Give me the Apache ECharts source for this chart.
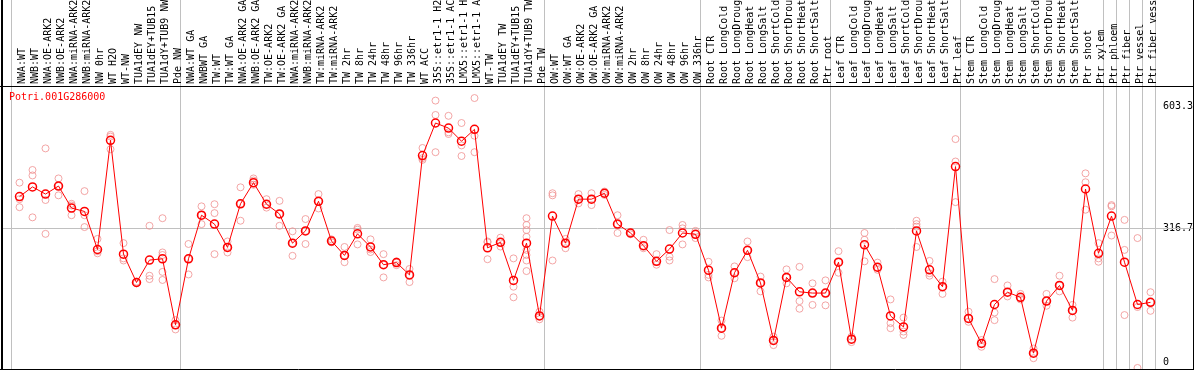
<!DOCTYPE html>
<html><head><meta charset="utf-8">
<script src="https://cdn.jsdelivr.net/npm/echarts@6.0.0/dist/echarts.min.js"></script>
<style>html,body{margin:0;padding:0;background:#fff}#c{width:1194px;height:370px}</style>
</head><body><div id="c"></div>
<script>
const geneName = 'Potri.001G286000';

const categories = [
  'NWA:WT','NWB:WT','NWA:OE-ARK2','NWB:OE-ARK2','NWA:miRNA-ARK2','NWB:miRNA-ARK2','NW 0hr','WT H2O','WT-NW',
  'TUA1dEY NW','TUA1dEY+TUB15 NW','TUA1dY+TUB9 NW','Pde NW',
  'NWA:WT GA','NWBWT GA','TW:WT','TW:WT GA','NWA:OE-ARK2 GA','NWB:OE-ARK2 GA','TW:OE-ARK2','TW:OE-ARK2 GA',
  'NWA:miRNA-ARK2 GA','NWB:miRNA-ARK2 GA','TW:miRNA-ARK2','TW:miRNA-ARK2 GA',
  'TW 2hr','TW 8hr','TW 24hr','TW 48hr','TW 96hr','TW 336hr','WT ACC',
  '35S::etr1-1 H2O','35S::etr1-1 ACC','LMX5::etr1-1 H2O','LMX5::etr1-1 ACC',
  'WT-TW','TUA1dEY TW','TUA1dEY+TUB15 TW','TUA1dY+TUB9 TW','Pde TW',
  'OW:WT','OW:WT GA','OW:OE-ARK2','OW:OE-ARK2 GA','OW:miRNA-ARK2','OW:miRNA-ARK2 GA',
  'OW 2hr','OW 8hr','OW 24hr','OW 48hr','OW 96hr','OW 336hr',
  'Root CTR','Root LongCold','Root LongDrought','Root LongHeat','Root LongSalt',
  'Root ShortCold','Root ShortDrought','Root ShortHeat','Root ShortSalt','Ptr root',
  'Leaf CTR','Leaf LongCold','Leaf LongDrought','Leaf LongHeat','Leaf LongSalt',
  'Leaf ShortCold','Leaf ShortDrought','Leaf ShortHeat','Leaf ShortSalt','Ptr leaf',
  'Stem CTR','Stem LongCold','Stem LongDrought','Stem LongHeat','Stem LongSalt',
  'Stem ShortCold','Stem ShortDrought','Stem ShortHeat','Stem ShortSalt',
  'Ptr shoot','Ptr xylem','Ptr phloem','Ptr fiber','Ptr vessel','Ptr fiber vessel'
];

const meanValues = [
  391,414,397,416,364,356,266,524,255,188,241,244,88,
  244,347,326,271,374,424,373,350,281,310,380,286,252,303,272,230,235,206,488,
  565,553,522,550,270,283,193,281,109,
  345,281,385,385,399,326,305,275,238,267,305,302,
  217,80,211,264,187,51,200,166,163,163,
  236,54,277,224,109,83,310,218,178,462,
  103,44,136,165,153,21,144,181,122,409,257,345,236,136,141
];

const replicateValues = [
  [424,385,366],[454,441,342],[505,383,303],[434,416,394],[374,370,347],[404,347,319],
  [291,262,257],[537,533,503],[281,245,240],[190,188,186],[322,204,196],[340,259,253,213,194],[99,87,77],
  [279,244,207],[368,347,326],[373,352,255],[285,271,259],[413,374,334],[434,429,419],[385,373,365],
  [381,350,322],[309,281,251],[338,310,279],[397,380,363],[290,286,283],[272,252,236],[317,313,278],
  [290,266,260],[255,230,200],[238,235,229],[220,206,189],[506,482,478],
  [618,584,496],[582,543,539],[565,512,487],[624,535,496],
  [285,283,243],[294,283,273],[245,178,153],[340,324,312,296,265,253,240,215],[119,109,101],
  [399,394,240],[291,281,269],[397,385,375],[399,385,371],[403,399,395],[347,326,305],
  [307,305,302],[289,275,269],[255,238,230],[312,249,240],[324,316,278],[310,302,293],
  [237,206,200],[98,80,62],[226,211,198],[285,264,248],[202,187,167],[60,51,40],
  [219,200,186],[225,144,126],[186,163,135],[193,163,134],
  [262,236,211],[60,54,47],[305,289,238],[235,224,218],[148,92,80],[105,72,64],
  [334,326,320,272],[239,210,204],[190,178,161],[527,474,378],
  [119,103,95],[52,44,36],[196,117,99],[181,165,155],[161,151,148],[32,21,9],
  [161,144,133],[204,181,167],[135,122,105],[446,425,360],[281,245,237],[371,368,299],
  [336,265,111],[293,130,-14],[165,141,121]
];

const yTickLabels = [0, 316.7, 603.3];
const groupStarts = [0, 13, 41, 53, 63, 73, 84, 85, 86, 87];

const FONT = 'DejaVu Sans Mono';
const scatterData = [];
replicateValues.forEach((reps, i) => reps.forEach(v => scatterData.push([i, v])));

const chart = echarts.init(document.getElementById('c'), null, {renderer: 'canvas'});
const option = {
  animation: false,
  backgroundColor: '#ffffff',
  title: {
    text: geneName, left: 9, top: 92, padding: 0,
    textStyle: {fontFamily: FONT, fontSize: 10, fontWeight: 'normal', color: '#ff0000'}
  },
  grid: [
    {left: 13, right: 37, top: 86, bottom: 1, containLabel: false, outerBoundsMode: 'none'},
    {left: 11, right: 39, top: 0, bottom: 1, containLabel: false, outerBoundsMode: 'none'},
    {left: 15.5, right: 34.5, top: 86, bottom: 1, containLabel: false, outerBoundsMode: 'none'}
  ],
  xAxis: [
    {
      type: 'category', gridIndex: 0, data: categories, position: 'top', boundaryGap: true,
      axisLine: {show: false}, axisTick: {show: false}, splitLine: {show: false}, axisLabel: {show: false}
    },
    {
      type: 'category', gridIndex: 1, data: categories, position: 'bottom', boundaryGap: true,
      axisLine: {show: false}, axisTick: {show: false}, axisLabel: {show: false},
      splitLine: {show: true, interval: (idx) => groupStarts.includes(idx), lineStyle: {color: '#c0c0c0', width: 1}}
    },
    {
      type: 'category', gridIndex: 2, data: categories, position: 'top', boundaryGap: true,
      axisLine: {show: false}, axisTick: {show: false}, splitLine: {show: false},
      axisLabel: {interval: 0, rotate: 90, margin: 2, fontFamily: FONT, fontSize: 10, color: '#000'}
    }
  ],
  yAxis: [
    {
      type: 'value', gridIndex: 0, position: 'right', min: -16.5, max: 652.5,
      axisLine: {show: false}, axisTick: {show: false}, splitLine: {show: false},
      axisLabel: {customValues: yTickLabels, margin: 6, fontFamily: FONT, fontSize: 10, color: '#000',
        formatter: v => String(v)}
    },
    {type: 'value', gridIndex: 1, show: false, min: 0, max: 1},
    {type: 'value', gridIndex: 2, show: false, min: 0, max: 1}
  ],
  series: [
    {
      type: 'scatter', xAxisIndex: 0, yAxisIndex: 0, data: scatterData, symbol: 'circle', symbolSize: 7,
      itemStyle: {color: 'rgba(0,0,0,0)', borderColor: '#f09090', borderWidth: 1}, z: 3, silent: true
    },
    {
      type: 'line', xAxisIndex: 0, yAxisIndex: 0, data: meanValues, symbol: 'circle', symbolSize: 8,
      showAllSymbol: true, lineStyle: {color: '#ff0000', width: 1},
      itemStyle: {color: 'rgba(0,0,0,0)', borderColor: '#ff0000', borderWidth: 1.5}, z: 4, silent: true
    }
  ]
};
chart.setOption(option);

const yGrid = Math.floor(chart.convertToPixel({yAxisIndex: 0}, yTickLabels[1])) + 0.5;
chart.setOption({
  graphic: [
    {type: 'line', silent: true, z: 1, shape: {x1: 2, y1: yGrid, x2: 1193, y2: yGrid}, style: {stroke: '#c0c0c0', lineWidth: 1}},
    {type: 'line', silent: true, z: 10, shape: {x1: 0, y1: 86.5, x2: 1194, y2: 86.5}, style: {stroke: '#000', lineWidth: 1}},
    {type: 'line', silent: true, z: 10, shape: {x1: 2, y1: 0, x2: 2, y2: 370}, style: {stroke: '#000', lineWidth: 2}},
    {type: 'line', silent: true, z: 10, shape: {x1: 1193.5, y1: 0, x2: 1193.5, y2: 370}, style: {stroke: '#000', lineWidth: 1}},
    {type: 'line', silent: true, z: 10, shape: {x1: 0, y1: 369.5, x2: 1194, y2: 369.5}, style: {stroke: '#000', lineWidth: 1}}
  ]
});
</script>
</body></html>
